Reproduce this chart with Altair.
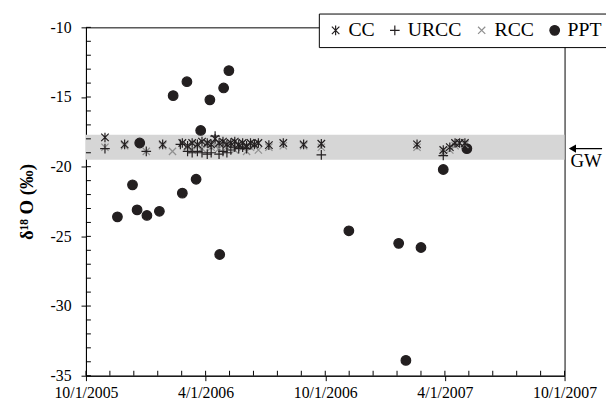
import altair as alt
import pandas as pd

START = "2005-10-01"

series_names = ["CC", "URCC", "RCC", "PPT"]

ppt_dates = ["2005-11-18", "2005-12-11", "2005-12-18", "2005-12-22", "2006-01-02", "2006-01-21",
             "2006-02-11", "2006-02-25", "2006-03-04", "2006-03-18", "2006-03-25", "2006-04-08",
             "2006-04-23", "2006-04-29", "2006-05-07", "2006-11-06", "2007-01-21", "2007-02-01",
             "2007-02-24", "2007-03-30", "2007-05-05"]
ppt_vals = [-23.6, -21.3, -23.1, -18.3, -23.5, -23.2,
            -14.9, -21.9, -13.9, -20.9, -17.4, -15.2,
            -26.3, -14.35, -13.1, -24.6, -25.5, -33.9,
            -25.8, -20.2, -18.7]

cc_dates = ["2005-10-30", "2005-11-29", "2006-01-26", "2006-02-25", "2006-03-05", "2006-03-12",
            "2006-03-20", "2006-03-27", "2006-04-04", "2006-04-10", "2006-04-16", "2006-04-22",
            "2006-04-28", "2006-05-04", "2006-05-10", "2006-05-16", "2006-05-22", "2006-05-28",
            "2006-06-03", "2006-06-09", "2006-06-15", "2006-06-21", "2006-07-07", "2006-07-29",
            "2006-08-29", "2006-09-25", "2007-02-18", "2007-03-30", "2007-04-09", "2007-04-17",
            "2007-04-24", "2007-05-02"]
cc_vals = [-17.9, -18.4, -18.4, -18.3, -18.5, -18.3,
           -18.4, -18.2, -18.3, -18.4, -18.0, -18.3,
           -18.2, -18.4, -18.3, -18.2, -18.4, -18.3,
           -18.5, -18.3, -18.4, -18.3, -18.45, -18.3,
           -18.4, -18.35, -18.4, -18.8, -18.6, -18.3,
           -18.3, -18.3]

rcc_dates = ["2005-10-30", "2005-11-29", "2006-01-01", "2006-01-26", "2006-02-10", "2006-03-05",
             "2006-03-12", "2006-03-20", "2006-03-27", "2006-04-04", "2006-04-10", "2006-04-16",
             "2006-04-22", "2006-04-28", "2006-05-04", "2006-05-10", "2006-05-16", "2006-05-22",
             "2006-05-28", "2006-06-03", "2006-06-09", "2006-06-15", "2006-06-21", "2006-07-07",
             "2006-07-29", "2006-08-29", "2006-09-25", "2007-02-18", "2007-03-30", "2007-04-09",
             "2007-04-17", "2007-05-02"]
rcc_vals = [-18.6, -18.5, -18.9, -18.5, -18.9, -18.6,
            -18.8, -18.5, -18.7, -18.4, -18.6, -18.5,
            -18.7, -18.4, -18.6, -18.5, -18.8, -18.5,
            -18.6, -18.9, -18.6, -18.5, -18.8, -18.6,
            -18.5, -18.5, -18.6, -18.6, -19.0, -18.8,
            -18.5, -18.4]

urcc_dates = ["2005-10-30", "2006-01-01", "2006-02-22", "2006-03-05", "2006-03-12", "2006-03-20",
              "2006-03-27", "2006-04-04", "2006-04-10", "2006-04-16", "2006-04-22", "2006-04-28",
              "2006-05-04", "2006-05-10", "2006-05-16", "2006-05-22", "2006-05-28", "2006-06-03",
              "2006-09-25", "2007-03-30"]
urcc_vals = [-18.7, -18.9, -18.4, -18.9, -19.0, -18.9,
             -19.0, -19.1, -19.0, -17.8, -19.1, -18.9,
             -19.0, -18.8, -18.6, -18.7, -18.6, -18.7,
             -19.15, -19.2]

gw_band = [-19.5, -17.7]
gw_level = -18.7

x_tick_days = [0, 182.5, 365, 547.5, 730]
x_tick_labels = ["10/1/2005", "4/1/2006", "10/1/2006", "4/1/2007", "10/1/2007"]
y_ticks = [-35, -30, -25, -20, -15, -10]

W, H = 485, 353
FONT = "Liberation Serif"
DARK = "#231f20"
GRAY = "#8f8f8f"


def day(d):
    return (pd.Timestamp(d) - pd.Timestamp(START)).days


rows = []
for name, ds, vs in [("PPT", ppt_dates, ppt_vals), ("RCC", rcc_dates, rcc_vals),
                     ("URCC", urcc_dates, urcc_vals), ("CC", cc_dates, cc_vals)]:
    for d, v in zip(ds, vs):
        rows.append({"series": name, "day": day(d), "value": v})
df = pd.DataFrame(rows)

x_scale = alt.Scale(domain=[x_tick_days[0], x_tick_days[-1]], nice=False, zero=False)
y_scale = alt.Scale(domain=[y_ticks[0], y_ticks[-1]], nice=False, zero=False)

lab_arr = "[" + ",".join("'%s'" % s for s in x_tick_labels) + "]"
day_arr = "[" + ",".join(str(v) for v in x_tick_days) + "]"

x_axis = alt.Axis(values=x_tick_days, labelExpr=f"{lab_arr}[indexof({day_arr}, datum.value)]",
                  title=None, labelFlush=False, labelOverlap=False, labelPadding=4)
y_axis = alt.Axis(values=y_ticks, labelExpr="toString(datum.value)", title="δ¹⁸ O (‰)",
                  titleFont=FONT, titleFontSize=19, titleFontWeight="bold", titleColor="black",
                  titlePadding=14, labelFlush=False, labelOverlap=False, labelPadding=10)

X = alt.X("day:Q", scale=x_scale, axis=x_axis)
Y = alt.Y("value:Q", scale=y_scale, axis=y_axis)

band = alt.Chart(pd.DataFrame({"value": [gw_band[0]], "value2": [gw_band[1]]})).mark_rect(
    color="#d6d6d6").encode(y=Y, y2="value2:Q", x=alt.value(0), x2=alt.value(W))

minor_x = [x_tick_days[0] + i * (x_tick_days[-1] - x_tick_days[0]) / 20 for i in range(21)]
xt = alt.Chart(pd.DataFrame({"day": minor_x})).mark_rule(color="black", strokeWidth=1).encode(
    x=X, y=alt.value(H), y2=alt.value(H - 5))
minor_y = list(range(y_ticks[0], y_ticks[-1] + 1))
yt = alt.Chart(pd.DataFrame({"value": minor_y})).mark_rule(color="black", strokeWidth=1).encode(
    y=Y, x=alt.value(0), x2=alt.value(5))

star = "M0,-1L0,1M-0.78,-0.78L0.78,0.78M-0.78,0.78L0.78,-0.78"
plus = "M0,-1L0,1M-1,0L1,0"
cross = "M-0.75,-0.75L0.75,0.75M-0.75,0.75L0.75,-0.75"

points = alt.Chart(df).mark_point(filled=False, opacity=1, strokeWidth=1.2).encode(
    x=X, y=Y,
    shape=alt.Shape("series:N", scale=alt.Scale(domain=series_names, range=[star, plus, cross, "circle"]),
                    legend=alt.Legend(title=None)),
    stroke=alt.Stroke("series:N", scale=alt.Scale(domain=series_names, range=[DARK, DARK, GRAY, DARK]),
                      legend=alt.Legend(title=None)),
    fill=alt.Fill("series:N", scale=alt.Scale(domain=series_names,
                                              range=["transparent", "transparent", "transparent", DARK]),
                  legend=alt.Legend(title=None)),
    size=alt.Size("series:N", scale=alt.Scale(domain=series_names, range=[95, 95, 115, 215]),
                  legend=alt.Legend(title=None)),
)

gw_df = pd.DataFrame({"value": [gw_level], "label": ["GW"]})
arrow_line = alt.Chart(gw_df).mark_rule(color="black", strokeWidth=1.2).encode(
    y=Y, x=alt.value(W + 6), x2=alt.value(W + 38))
arrow_head = alt.Chart(gw_df).mark_point(shape="triangle-left", filled=True, color="black",
                                         opacity=1, size=70).encode(y=Y, x=alt.value(W + 8))
gw_text = alt.Chart(gw_df).mark_text(align="left", baseline="top", font=FONT, fontSize=19,
                                     color="black", dy=4).encode(y=Y, x=alt.value(W + 6), text="label:N")

chart = alt.layer(band, xt, yt, points, arrow_line, arrow_head, gw_text).properties(
    width=W, height=H,
    autosize=alt.AutoSizeParams(type="none"),
    padding={"left": 79, "top": 17, "right": 42, "bottom": 22},
).configure_view(
    stroke="black", strokeWidth=1
).configure_axis(
    grid=False, domainColor="black", domainWidth=1, tickColor="black", tickSize=5, tickWidth=1,
    labelFont=FONT, labelFontSize=16, labelColor="black"
).configure_legend(
    orient="none", legendX=236, legendY=-14, direction="horizontal", columns=4,
    fillColor="white", strokeColor="black", padding=7, columnPadding=10, labelOffset=3,
    labelFont=FONT, labelFontSize=20, labelColor="black", symbolStrokeWidth=1.2
)

chart.save("out.html", embed_options={"renderer": "svg", "actions": False})
